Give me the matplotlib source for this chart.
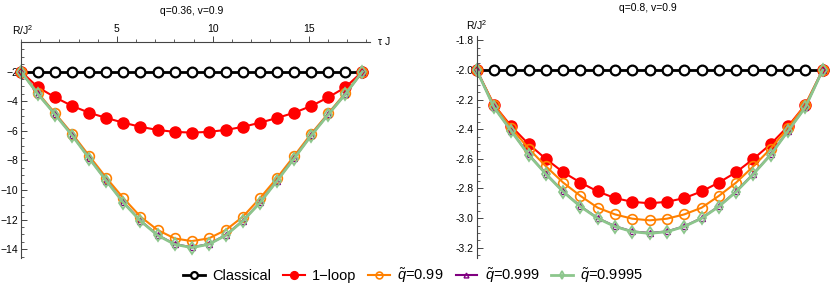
import matplotlib
matplotlib.use('Agg')
import matplotlib.pyplot as plt
from matplotlib.ticker import MultipleLocator, FormatStrFormatter

plt.rcParams['font.family'] = ['Liberation Sans', 'DejaVu Sans']
plt.rcParams['mathtext.fontset'] = 'custom'
plt.rcParams['mathtext.it'] = 'Liberation Sans:italic'
plt.rcParams['mathtext.rm'] = 'Liberation Sans'

# tau J grid (same for both panels)
tau = [0.0, 0.89, 1.78, 2.67, 3.56, 4.45, 5.34, 6.23, 7.12, 8.01, 8.9,
       9.79, 10.68, 11.57, 12.46, 13.35, 14.24, 15.13, 16.02, 16.91, 17.8]

# left panel: q=0.36, v=0.9
left_classical = [-2.0, -2.0, -2.0, -2.0, -2.0, -2.0, -2.0, -2.0, -2.0, -2.0, -2.0,
                  -2.0, -2.0, -2.0, -2.0, -2.0, -2.0, -2.0, -2.0, -2.0, -2.0]
left_loop = [-2.0, -3.06, -3.74, -4.32, -4.78, -5.13, -5.45, -5.73, -5.94, -6.07, -6.12,
             -6.07, -5.94, -5.73, -5.45, -5.13, -4.78, -4.32, -3.74, -3.06, -2.0]
left_q99 = [-2.0, -3.45, -4.82, -6.2, -7.7, -9.18, -10.55, -11.8, -12.7, -13.27, -13.45,
            -13.27, -12.7, -11.8, -10.55, -9.18, -7.7, -6.2, -4.82, -3.45, -2.0]
left_q999 = [-2.0, -3.52, -4.88, -6.3, -7.85, -9.36, -10.84, -12.07, -13.04, -13.65, -13.87,
             -13.65, -13.04, -12.07, -10.84, -9.36, -7.85, -6.3, -4.88, -3.52, -2.0]
left_q9995 = [-2.0, -3.53, -4.9, -6.32, -7.87, -9.38, -10.86, -12.09, -13.06, -13.67, -13.89,
              -13.67, -13.06, -12.09, -10.86, -9.38, -7.87, -6.32, -4.9, -3.53, -2.0]

# right panel: q=0.8, v=0.9
right_classical = left_classical
right_loop = [-2.0, -2.235, -2.38, -2.5, -2.6, -2.69, -2.76, -2.82, -2.865, -2.89, -2.9,
              -2.89, -2.865, -2.82, -2.76, -2.69, -2.6, -2.5, -2.38, -2.235, -2.0]
right_q99 = [-2.0, -2.235, -2.39, -2.53, -2.65, -2.76, -2.85, -2.93, -2.975, -3.004, -3.015,
             -3.004, -2.975, -2.93, -2.85, -2.76, -2.65, -2.53, -2.39, -2.235, -2.0]
right_q999 = [-2.0, -2.25, -2.41, -2.57, -2.7, -2.82, -2.92, -3.0, -3.055, -3.09, -3.1,
              -3.09, -3.055, -3.0, -2.92, -2.82, -2.7, -2.57, -2.41, -2.25, -2.0]
right_q9995 = [-2.0, -2.252, -2.412, -2.572, -2.702, -2.822, -2.922, -3.002, -3.057, -3.092, -3.103,
               -3.092, -3.057, -3.002, -2.922, -2.822, -2.702, -2.572, -2.412, -2.252, -2.0]

labels = ['Classical', '1\u2212loop', r'$\tilde{q}$=0.99', r'$\tilde{q}$=0.999', r'$\tilde{q}$=0.9995']

styles = [
    dict(color='black', lw=2.0, marker='o', ms=7, mfc='white', mec='black', mew=1.6),
    dict(color='#FF0000', lw=1.5, marker='o', ms=8, mfc='#FF0000', mec='#FF0000'),
    dict(color='#FF8000', lw=1.5, marker='o', ms=7, mfc='none', mec='#FF8000', mew=1.2),
    dict(color='#800080', lw=1.5, marker='^', ms=5, mfc='none', mec='#800080', mew=1.0),
    dict(color='#8CC68C', lw=2.0, marker='d', ms=6, mfc='none', mec='#8CC68C', mew=1.3),
]

fig = plt.figure(figsize=(8.31, 2.9), dpi=100)
axL = fig.add_axes([0.0253, 0.11, 0.42, 0.745])
axR = fig.add_axes([0.5736, 0.11, 0.421, 0.766])

lines = []
for ys, lab, st in zip([left_classical, left_loop, left_q99, left_q999, left_q9995], labels, styles):
    l, = axL.plot(tau, ys, label=lab, clip_on=False, **st)
    lines.append(l)
for ys, st in zip([right_classical, right_loop, right_q99, right_q999, right_q9995], styles):
    axR.plot(tau, ys, clip_on=False, **st)

axis_col = '#444444'

# left panel: Mathematica-like axes, x-axis at y=0 at the top
axL.set_xlim(0, 18.2)
axL.set_ylim(-14.6, 0)
for s in ['bottom', 'right']:
    axL.spines[s].set_visible(False)
axL.spines['top'].set_position(('data', 0))
axL.spines['left'].set_position(('data', 0))
for s in ['top', 'left']:
    axL.spines[s].set_color(axis_col)
    axL.spines[s].set_linewidth(0.8)
axL.xaxis.set_ticks_position('top')
axL.xaxis.set_minor_locator(MultipleLocator(1))
axL.set_xticks([5, 10, 15])
axL.yaxis.set_minor_locator(MultipleLocator(0.5))
axL.set_yticks([-2, -4, -6, -8, -10, -12, -14])
axL.tick_params(axis='x', which='major', direction='out', length=4, width=0.7, color=axis_col,
                labelsize=7.5, pad=2)
axL.tick_params(axis='x', which='minor', direction='out', length=2.5, width=0.6, color=axis_col)
axL.tick_params(axis='y', which='major', direction='in', length=4, width=0.7, color=axis_col,
                labelsize=7.5, pad=2)
axL.tick_params(axis='y', which='minor', direction='in', length=2.5, width=0.6, color=axis_col)
axL.text(-0.45, 0.35, 'R/J$^2$', fontsize=7.5, ha='left', va='bottom', transform=axL.transData,
         clip_on=False)
axL.text(18.6, 0, '\u03c4 J', fontsize=7.5, ha='left', va='center', transform=axL.transData,
         clip_on=False)

# right panel: only the y-axis
axR.set_xlim(0, 18.0)
axR.set_ylim(-3.27, -1.77)
for s in ['bottom', 'right', 'top']:
    axR.spines[s].set_visible(False)
axR.spines['left'].set_color(axis_col)
axR.spines['left'].set_linewidth(0.8)
axR.set_xticks([])
axR.yaxis.set_major_locator(MultipleLocator(0.2))
axR.yaxis.set_minor_locator(MultipleLocator(0.05))
axR.yaxis.set_major_formatter(FormatStrFormatter('%.1f'))
axR.tick_params(axis='y', which='major', direction='in', length=4, width=0.7, color=axis_col,
                labelsize=7.5, pad=2)
axR.tick_params(axis='y', which='minor', direction='in', length=2.5, width=0.6, color=axis_col)
axR.text(-0.55, -1.745, 'R/J$^2$', fontsize=7.5, ha='left', va='bottom', transform=axR.transData,
         clip_on=False)

# panel titles
fig.text(0.231, 0.962, 'q=0.36, v=0.9', fontsize=7.5, ha='center', va='center')
fig.text(0.780, 0.972, 'q=0.8, v=0.9', fontsize=7.5, ha='center', va='center')

fig.legend(handles=lines, loc='center', bbox_to_anchor=(0.497, 0.05), ncol=5, frameon=False,
           fontsize=10.5, handlelength=1.5, columnspacing=0.8, handletextpad=0.5,
           markerscale=0.7)

fig.savefig('out.png', dpi=100)
